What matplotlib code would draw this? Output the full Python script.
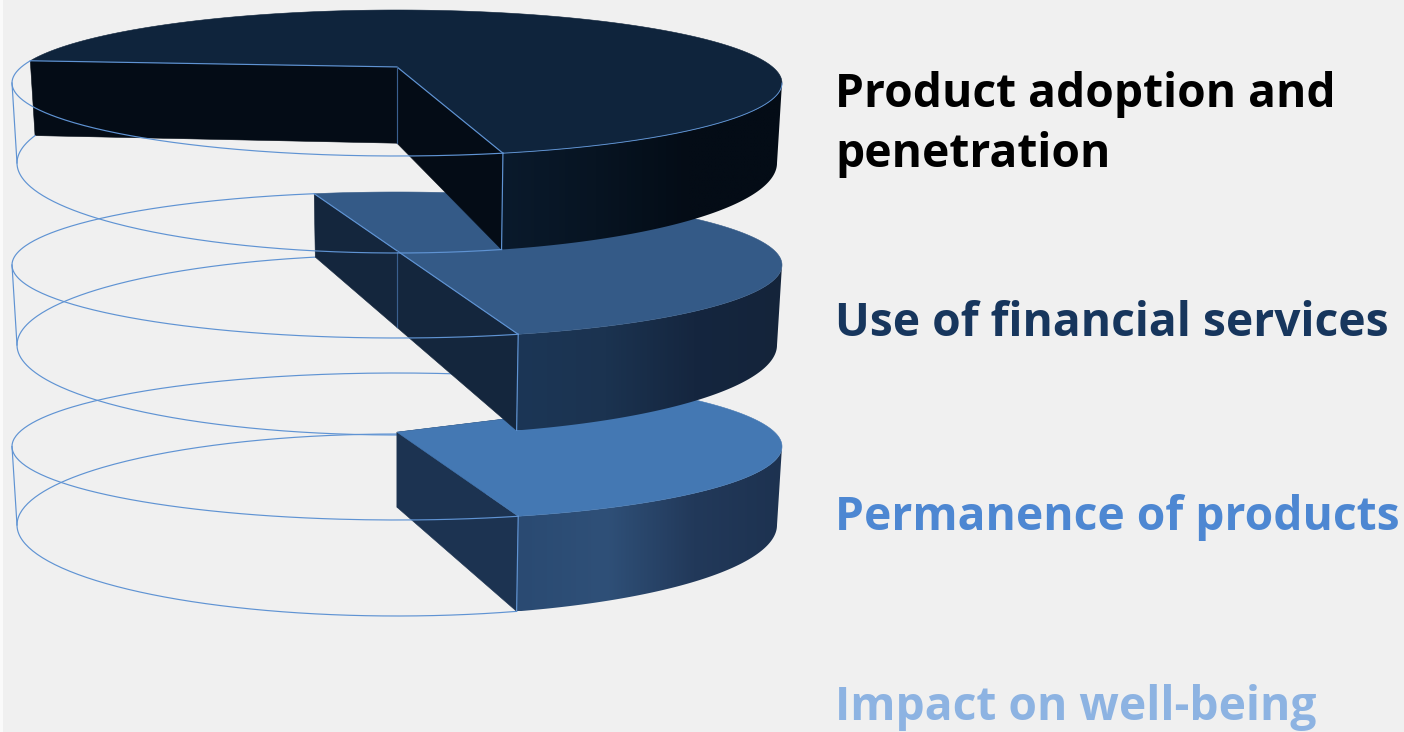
import numpy as np
import matplotlib
matplotlib.use("Agg")
import matplotlib.pyplot as plt
from matplotlib.colors import LinearSegmentedColormap
from matplotlib.patches import Polygon

# Stage labels and the share of each disk that stays filled
stages = ["Product adoption and\npenetration", "Use of financial services",
          "Permanence of products", "Impact on well-being"]
shares = [0.70, 0.50, 0.30]
end_angle = [167.2, 164.9, 164.9]

label_colors = ["#000000", "#17365d", "#4d87d2", "#8db3e2"]
label_baselines = [[107, 167], [336], [530], [720]]

top_colors = ["#0f243c", "#345a87", "#4478b3"]
face_colors = ["#040c16", "#14263d", "#1c3351"]
rim_stops = [["#0a1a2c", "#071422", "#040c16", "#040c16"],
             ["#1c3656", "#1b3350", "#15263f", "#14243a"],
             ["#2a4a72", "#2f5078", "#22395a", "#1d3250"]]

# Ellipse geometry per disk, in pixels: centre y and half height for top and bottom faces
top_cy = [83, 265, 446.5]
top_b = [73, 73, 73.5]
bot_cy = [163, 345, 525]
bot_b = [90, 90, 91]
tilt = [0.22, 0.195, 0.195]
CX = 397
TOP_A = 385
BOT_A = 380

LINE = "#5f93d3"
LW = 0.85

fig = plt.figure(figsize=(14.04, 7.32), dpi=100, facecolor="#f0f0f0")
ax = fig.add_axes([0, 0, 1, 1])
ax.set_xlim(0, 1404)
ax.set_ylim(732, 0)
ax.axis("off")
ax.axvspan(0, 3, color="#fafafa", lw=0, zorder=0)

counter = [1]


def z():
    counter[0] += 1
    return counter[0]


def project(i, theta, level):
    """Map a clockwise angle on disk i to pixels; perspective moves the hub upward."""
    t = np.radians(theta)
    u, v = np.sin(t), -np.cos(t)
    e = tilt[i]
    d = 1 - e * v
    up = u * np.sqrt(1 - e * e) / d
    vp = (v - e) / d
    if level == "top":
        return CX + TOP_A * up, top_cy[i] + top_b[i] * vp
    return CX + BOT_A * up, bot_cy[i] + bot_b[i] * vp


def hub(i, level):
    e = tilt[i]
    if level == "top":
        return CX, top_cy[i] - e * top_b[i]
    return CX, bot_cy[i] - e * bot_b[i]


def arc(i, a, b, level):
    x, y = project(i, np.linspace(a, b, 240), level)
    return np.column_stack([x, y])


def extreme_angle(i, side):
    # angle where the projected ellipse reaches its widest point
    a = np.degrees(np.arccos(-tilt[i]))
    return a if side == "right" else 360 - a


def quad(i, a):
    tx, ty = project(i, a, "top")
    bx, by = project(i, a, "bottom")
    hx, hy = hub(i, "top")
    jx, jy = hub(i, "bottom")
    return [(tx, ty), (hx, hy), (jx, jy), (bx, by)]


def draw_ghost_bottom(i):
    start = end_angle[i] - 360 * shares[i]
    pts = arc(i, end_angle[i], start + 360, "bottom")
    ax.plot(pts[:, 0], pts[:, 1], color=LINE, lw=LW, zorder=z())


def draw_ghost_top(i):
    start = end_angle[i] - 360 * shares[i]
    pts = arc(i, end_angle[i], start + 360, "top")
    ax.plot(pts[:, 0], pts[:, 1], color=LINE, lw=LW, zorder=z())
    a = extreme_angle(i, "left")
    x0, y0 = project(i, a, "top")
    x1, y1 = project(i, a, "bottom")
    ax.plot([x0, x1], [y0, y1], color=LINE, lw=LW, zorder=z())


def draw_solid(i, edges=True):
    start = end_angle[i] - 360 * shares[i]
    end = end_angle[i]
    for a in (start, end):
        ax.add_patch(Polygon(quad(i, a), closed=True, fc=face_colors[i],
                             ec=face_colors[i], lw=0.4, zorder=z()))
    # outer wall, shaded from the front corner to the right silhouette
    right = extreme_angle(i, "right")
    wall = np.vstack([arc(i, right, end, "top"), arc(i, end, right, "bottom")])
    cmap = LinearSegmentedColormap.from_list("wall", rim_stops[i])
    x0, x1 = wall[:, 0].min(), wall[:, 0].max()
    y0, y1 = wall[:, 1].min(), wall[:, 1].max()
    patch = Polygon(wall, closed=True, fc="none", ec="none", zorder=z())
    ax.add_patch(patch)
    im = ax.imshow(np.linspace(0, 1, 256)[None, :], cmap=cmap, aspect="auto",
                   extent=(x0, x1, y1, y0), zorder=z(), interpolation="bilinear")
    im.set_clip_path(patch)
    ax.set_xlim(0, 1404)
    ax.set_ylim(732, 0)
    # upper surface
    hx, hy = hub(i, "top")
    surf = np.vstack([[hx, hy], arc(i, start, end, "top")])
    ax.add_patch(Polygon(surf, closed=True, fc=top_colors[i], ec=top_colors[i],
                         lw=0.4, zorder=z()))
    if edges:
        sx, sy = project(i, start, "top")
        ex, ey = project(i, end, "top")
        ax.plot([sx, hx, ex], [sy, hy, ey], color=LINE, lw=LW, zorder=z())
        jx, jy = hub(i, "bottom")
        ax.plot([hx, jx], [hy, jy], color="#3a5f8f", lw=LW, zorder=z())
    fx, fy = project(i, end, "top")
    gx, gy = project(i, end, "bottom")
    ax.plot([fx, gx], [fy, gy], color=LINE, lw=LW, zorder=z())


# Bottom disk is painted first so the upper disks overlap it
draw_ghost_bottom(1)
draw_ghost_bottom(2)
draw_solid(2, edges=False)
draw_ghost_top(2)
draw_solid(1)
draw_ghost_top(1)
draw_solid(0)
rim = arc(0, extreme_angle(0, "right"), end_angle[0], "top")
ax.plot(rim[:, 0], rim[:, 1], color=LINE, lw=LW * 0.8, zorder=z())
draw_ghost_top(0)
draw_ghost_bottom(0)

for text, color, baselines in zip(stages, label_colors, label_baselines):
    for line, base in zip(text.split("\n"), baselines):
        ax.text(835, base, line, color=color, fontsize=33.2, fontweight="bold",
                family="Open Sans", va="baseline", ha="left", zorder=z())

fig.savefig("out.png", dpi=100, facecolor=fig.get_facecolor())
